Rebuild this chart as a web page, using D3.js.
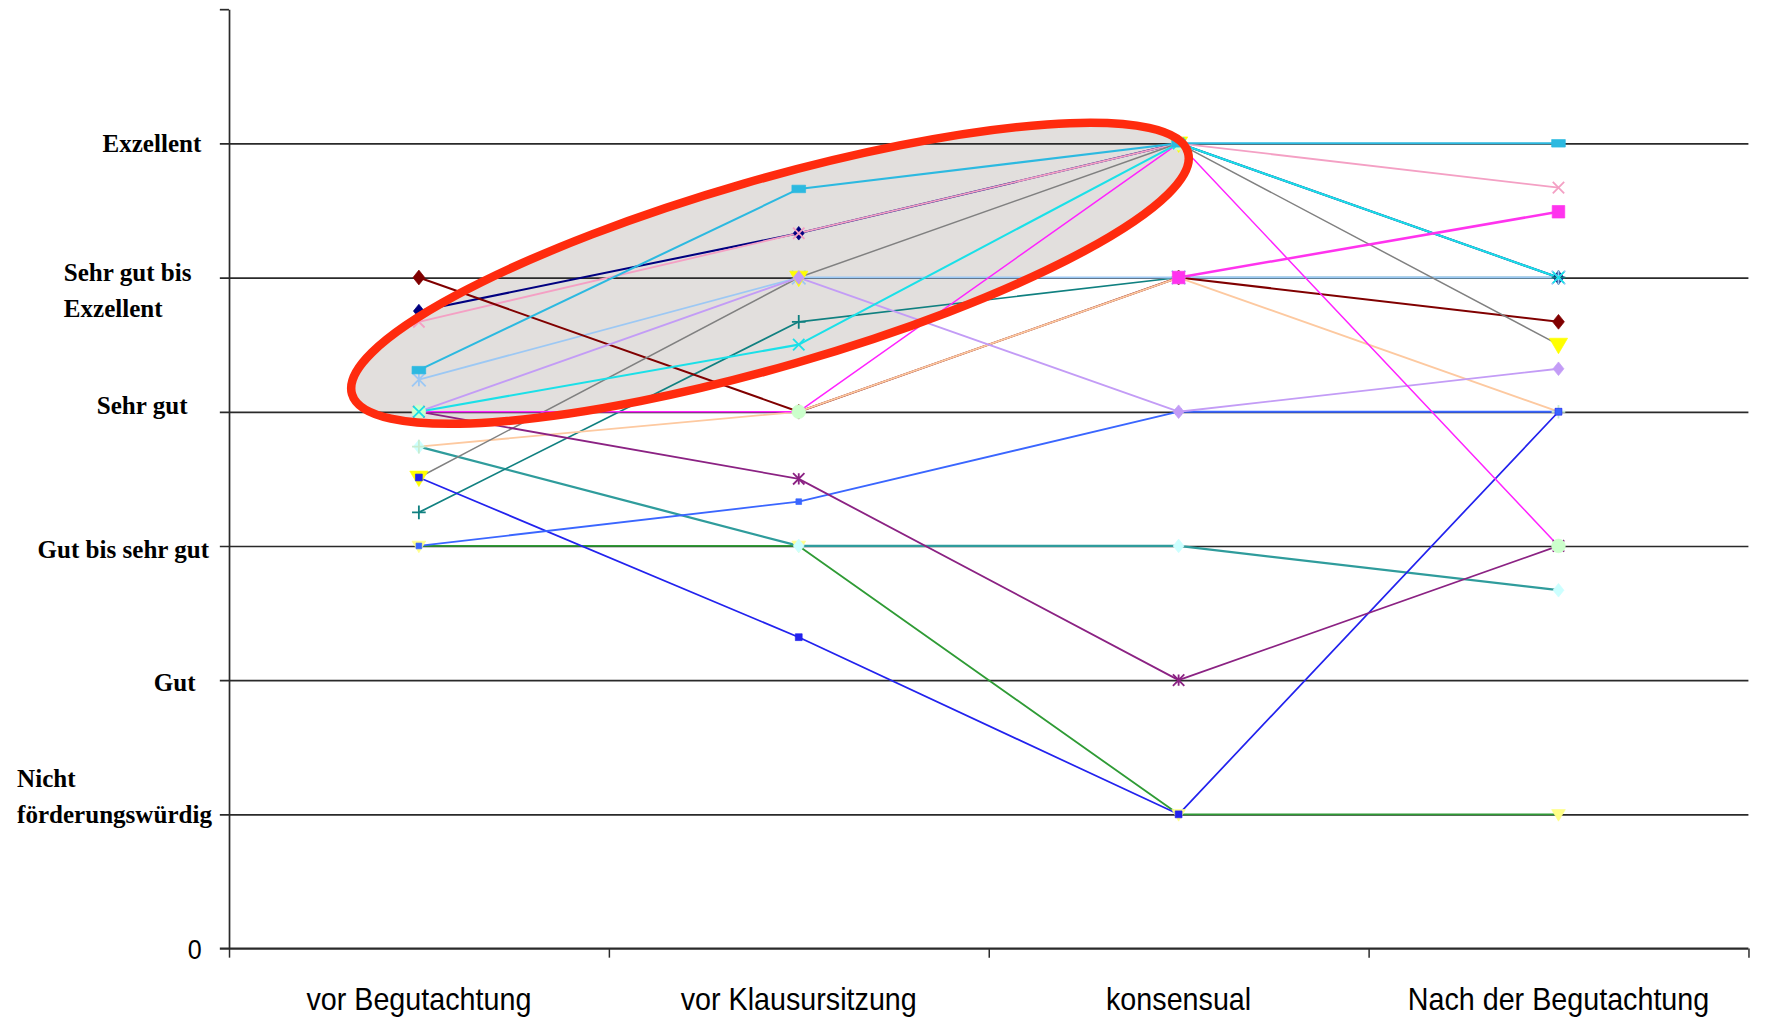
<!DOCTYPE html>
<html>
<head>
<meta charset="utf-8">
<script src="https://cdn.jsdelivr.net/npm/d3@7"></script>
<style>
  html, body { margin: 0; padding: 0; background: #ffffff; }
  svg { display: block; }
</style>
</head>
<body>
<svg id="chart" width="1786" height="1018" viewBox="0 0 1568 894" preserveAspectRatio="none"></svg>
<script>
// ---------------- DATA ----------------
const categories = ["vor Begutachtung", "vor Klausursitzung", "konsensual", "Nach der Begutachtung"];
const yTickValues = [1, 2, 3, 4, 5, 6];
const yTickLabels = [["Nicht", "förderungswürdig"], ["Gut"], ["Gut bis sehr gut"], ["Sehr gut"], ["Sehr gut bis", "Exzellent"], ["Exzellent"]];
const yZeroLabel = "0";
const yMax = 7;

// one array per project (values per category; null = no value)
const seriesGreen      = [3.0, 3.0, 1.0, 1.0];
const seriesTeal       = [3.74, 3.0, 3.0, 2.67];
const seriesNavy       = [4.75, 5.33, 6.0, 5.0];
const seriesPink       = [4.67, 5.33, 6.0, 5.67];
const seriesTealPlus   = [3.25, 4.67, 5.0, 5.0];
const seriesLightBlue  = [4.24, 5.0, 5.0, 5.0];
const seriesDarkRed    = [5.0, 4.0, 5.0, 4.67];
const seriesPeach      = [3.74, 4.0, 5.0, 4.0];
const seriesGray       = [3.51, 5.0, 6.0, 4.5];
const seriesBlue       = [3.51, 2.32, 1.0, 4.0];
const seriesRoyalBlue  = [3.0, 3.33, 4.0, 4.0];
const seriesPurple     = [4.0, 3.5, 2.0, 3.0];
const seriesLavender   = [4.0, 5.0, 4.0, 4.32];
const seriesMagenta    = [4.0, 4.0, 6.0, 3.0];
const seriesCyan       = [4.0, 4.5, 6.0, 5.0];
const seriesSkyBlue    = [4.31, 5.66, 6.0, 6.0];
const seriesMagentaSq  = [null, null, 5.0, 5.49];

const seriesValues = [seriesGreen, seriesTeal, seriesNavy, seriesPink, seriesTealPlus, seriesLightBlue,
  seriesDarkRed, seriesPeach, seriesGray, seriesBlue, seriesRoyalBlue, seriesPurple, seriesLavender,
  seriesMagenta, seriesCyan, seriesSkyBlue, seriesMagentaSq];

// ---------------- STYLES ----------------
const seriesStyles = [
  {line: "#2f9b35", w: 1.6, marker: "triDown", mc: "#ffff88", ms: 6},
  {line: "#2f9c9c", w: 2.0, marker: "diamond", mc: "#ccffff", ms: 6},
  {line: "#000080", w: 1.8, marker: "diamond", mc: "#000080", ms: 6},
  {line: "#f4a0c4", w: 1.6, marker: "times",   mc: "#f4a0c4", ms: 5},
  {line: "#108080", w: 1.5, marker: "plus",    mc: "#108080", ms: 6},
  {line: "#9cc8f4", w: 1.6, marker: "asterisk",mc: "#9cc8f4", ms: 6},
  {line: "#800000", w: 1.8, marker: "diamond", mc: "#800000", ms: 6.5},
  {line: "#fdc9a0", w: 1.6, marker: "plus",    mc: "#c8ecd0", ms: 6},
  {line: "#808080", w: 1.3, marker: "triDown", mc: "#ffff00", ms: 8},
  {line: "#2222ee", w: 1.5, marker: "square",  mc: "#2222ee", ms: 3},
  {line: "#3a66ff", w: 1.6, marker: "square",  mc: "#3a66ff", ms: 2.5},
  {line: "#8b2283", w: 1.6, marker: "asterisk",mc: "#8b2283", ms: 5},
  {line: "#c39cf6", w: 1.6, marker: "diamond", mc: "#c39cf6", ms: 6},
  {line: "#ff22ff", w: 1.3, marker: "circle",  mc: "#ccffcc", ms: 6},
  {line: "#1ae0e8", w: 1.8, marker: "times",   mc: "#1ae0e8", ms: 5},
  {line: "#2cb9e0", w: 1.8, marker: "bar",     mc: "#2cb9e0", ms: 6},
  {line: "#ff33ee", w: 2.2, marker: "square",  mc: "#ff33ee", ms: 5.5}
];
// label layout (left x, vertical offsets of each line relative to tick)
const yLabelLayout = [
  {x: 15,  dy: [-31, 0]},
  {x: 135, dy: [2]},
  {x: 33,  dy: [3]},
  {x: 85,  dy: [-5]},
  {x: 56,  dy: [-4, 27]},
  {x: 90,  dy: [0]}
];

// ---------------- CHART ----------------
const svg = d3.select("#chart");
const plotLeft = 201, plotRight = 1535, plotTop = 8, plotBottom = 833;

const x = d3.scaleBand().domain(categories).range([plotLeft, plotRight]);
const xEdge = d3.scaleLinear().domain([0, categories.length]).range([plotLeft, plotRight]);
const y = d3.scaleLinear().domain([0, yMax]).range([plotBottom, plotTop]);
const xc = c => x(c) + x.bandwidth() / 2;

// ellipse fill (annotation, under everything)
const ell = svg.append("g").attr("transform", "translate(676,240) rotate(-16.13)");
ell.append("ellipse").attr("rx", 382).attr("ry", 82).attr("fill", "#e2dfdd");

// gridlines (with outward ticks)
const grid = svg.append("g").attr("transform", `translate(${plotLeft - 8},0)`)
  .call(d3.axisRight(y).tickValues(yTickValues).tickSize(plotRight - plotLeft + 8).tickFormat(""));
grid.select(".domain").remove();
grid.selectAll(".tick line").attr("stroke", "#2a2a2a").attr("stroke-width", 1.5);

// y axis line + top tick
const yAxis = svg.append("g").attr("transform", `translate(${plotLeft},0)`)
  .call(d3.axisLeft(y).tickValues([yMax]).tickSize(8).tickSizeOuter(0).tickFormat(""));
yAxis.select(".domain").attr("stroke", "#2a2a2a").attr("stroke-width", 1.5);
yAxis.selectAll(".tick line").attr("stroke", "#2a2a2a").attr("stroke-width", 1.5);

// x axis: baseline with boundary ticks
const xAxis = svg.append("g").attr("transform", `translate(0,${plotBottom})`)
  .call(d3.axisBottom(xEdge).tickValues(d3.range(0, categories.length + 1)).tickSize(8).tickSizeOuter(0).tickFormat(""));
xAxis.select(".domain").remove();
xAxis.selectAll(".tick line").attr("stroke", "#2a2a2a").attr("stroke-width", 1.3);
svg.append("line").attr("x1", plotLeft - 8).attr("x2", plotRight).attr("y1", y(0)).attr("y2", y(0))
  .attr("stroke", "#2a2a2a").attr("stroke-width", 2);

// category labels
const xLab = svg.append("g").attr("transform", `translate(0,${plotBottom})`)
  .call(d3.axisBottom(x).tickSize(0).tickPadding(0));
xLab.select(".domain").remove();
xLab.selectAll(".tick text")
  .attr("y", 0).attr("dy", 0).attr("x", 0)
  .attr("transform", "translate(0,54) scale(0.9,1)")
  .style("font-family", "'Liberation Sans', Arial, sans-serif")
  .style("font-size", "28px")
  .attr("fill", "#000");

// y labels
const yl = svg.append("g");
yTickValues.forEach((v, i) => {
  const lay = yLabelLayout[i];
  yTickLabels[i].forEach((txt, j) => {
    yl.append("text")
      .attr("x", lay.x)
      .attr("y", y(v) + lay.dy[j])
      .attr("dy", "0.33em")
      .style("font-family", "'Liberation Serif', 'Times New Roman', serif")
      .style("font-weight", "bold")
      .style("font-size", "22px")
      .attr("fill", "#000")
      .text(txt);
  });
});
yl.append("text")
  .attr("transform", `translate(171,${y(0)}) scale(0.88,1)`)
  .attr("text-anchor", "middle")
  .attr("dy", "0.36em")
  .style("font-family", "'Liberation Sans', Arial, sans-serif")
  .style("font-size", "25px")
  .attr("fill", "#000")
  .text(yZeroLabel);

// series lines
const line = d3.line()
  .defined(d => d.v != null)
  .x(d => xc(d.c))
  .y(d => y(d.v));

const seriesData = seriesValues.map((vals, i) => ({
  style: seriesStyles[i],
  points: vals.map((v, k) => ({c: categories[k], v}))
}));

svg.append("g").selectAll("path").data(seriesData).join("path")
  .attr("d", d => line(d.points))
  .attr("fill", "none")
  .attr("stroke", d => d.style.line)
  .attr("stroke-width", d => d.style.w)
  .attr("stroke-linejoin", "round");

// marker symbol types
const symbolTypes = {
  diamond: {draw(ctx, r) { ctx.moveTo(0, -r); ctx.lineTo(r * 0.8, 0); ctx.lineTo(0, r); ctx.lineTo(-r * 0.8, 0); ctx.closePath(); }},
  square: {draw(ctx, r) { ctx.rect(-r, -r, 2 * r, 2 * r); }},
  bar: {draw(ctx, r) { ctx.rect(-r, -r * 0.55, 2 * r, r * 1.1); }},
  circle: {draw(ctx, r) { ctx.moveTo(r, 0); ctx.arc(0, 0, r, 0, 2 * Math.PI); }},
  triDown: {draw(ctx, r) { ctx.moveTo(-r, -r * 0.7); ctx.lineTo(r, -r * 0.7); ctx.lineTo(0, r); ctx.closePath(); }},
  times: {draw(ctx, r) { ctx.moveTo(-r, -r); ctx.lineTo(r, r); ctx.moveTo(-r, r); ctx.lineTo(r, -r); }},
  plus: {draw(ctx, r) { ctx.moveTo(-r, 0); ctx.lineTo(r, 0); ctx.moveTo(0, -r); ctx.lineTo(0, r); }},
  asterisk: {draw(ctx, r) { ctx.moveTo(-r, -r); ctx.lineTo(r, r); ctx.moveTo(-r, r); ctx.lineTo(r, -r); ctx.moveTo(0, -r); ctx.lineTo(0, r); }}
};
const strokeMarkers = new Set(["times", "plus", "asterisk"]);

const mg = svg.append("g");
seriesData.forEach(s => {
  const st = s.style;
  const sym = d3.symbol().type(symbolTypes[st.marker]).size(st.ms);
  mg.append("g").selectAll("path").data(s.points.filter(p => p.v != null)).join("path")
    .attr("transform", p => `translate(${xc(p.c)},${y(p.v)})`)
    .attr("d", sym)
    .attr("fill", strokeMarkers.has(st.marker) ? "none" : st.mc)
    .attr("stroke", st.mc)
    .attr("stroke-width", strokeMarkers.has(st.marker) ? 1.6 : 0.6);
});

// ellipse outline on top
const ell2 = svg.append("g").attr("transform", "translate(676,240) rotate(-16.13)");
ell2.append("ellipse").attr("rx", 382).attr("ry", 82)
  .attr("fill", "none").attr("stroke", "#ff2b0e").attr("stroke-width", 7.5);
</script>
</body>
</html>
